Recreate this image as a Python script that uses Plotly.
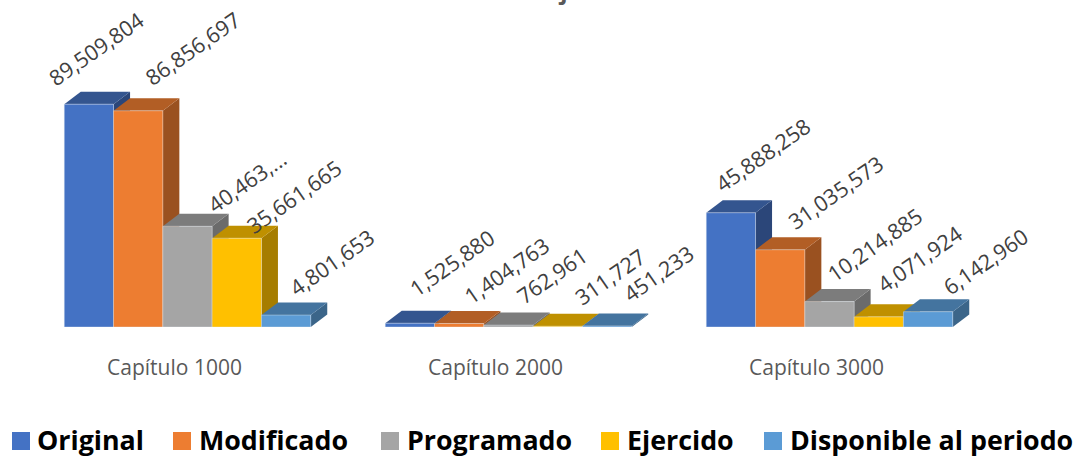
import plotly.graph_objects as go

categories = ["Capítulo 1000", "Capítulo 2000", "Capítulo 3000"]
original = [89509804, 1525880, 45888258]
modificado = [86856697, 1404763, 31035573]
programado = [40463000, 762961, 10214885]
ejercido = [35661665, 311727, 4071924]
disponible = [4801653, 451233, 6142960]

series_names = ["Original", "Modificado", "Programado", "Ejercido", "Disponible al periodo"]
series_values = [original, modificado, programado, ejercido, disponible]
front_colors = ["#4472C4", "#ED7D31", "#A5A5A5", "#FFC000", "#5B9BD5"]
top_colors = ["#34558F", "#B25E25", "#7C7C7C", "#BF9000", "#44749F"]
side_colors = ["#2B4679", "#9A5120", "#6B6B6B", "#A67D00", "#3B6589"]

label_text = [
    ["89,509,804", "1,525,880", "45,888,258"],
    ["86,856,697", "1,404,763", "31,035,573"],
    ["40,463,...", "762,961", "10,214,885"],
    ["35,661,665", "311,727", "4,071,924"],
    ["4,801,653", "451,233", "6,142,960"],
]
# Label displacement from the top-centre of the bar front, pixels
label_dx = [[7, 42, 32], [54, 47, 55], [59, 43, 45], [57, 52, 41], [45, 51, 57]]
label_dy = [[-56, -61, -58], [-62, -53, -57], [-45, -50, -57], [-42, -50, -58], [-53, -52, -50]]

L, R, T, B = 27, 88, 30, 131
W, H = 1078, 458
Y_MAX = 119.3e6
BAR = 49.3 / 321
DX = 16.5 / 321
DY = 12.5 * Y_MAX / (H - T - B)
TICK_SHIFT = 13 / 321

fig = go.Figure()
for s, name in enumerate(series_names):
    for c in range(len(categories)):
        v = series_values[s][c]
        x0 = c + (s - 2.5) * BAR
        x1 = x0 + BAR
        hover = f"{name}: {v:,}"
        fig.add_trace(go.Scatter(  # side
            x=[x1, x1 + DX, x1 + DX, x1, x1], y=[0, DY, v + DY, v, 0],
            mode="lines", line=dict(width=0), fill="toself", fillcolor=side_colors[s],
            showlegend=False, hoverinfo="text", text=hover))
        fig.add_trace(go.Scatter(  # top
            x=[x0, x0 + DX, x1 + DX, x1, x0], y=[v, v + DY, v + DY, v, v],
            mode="lines", line=dict(width=0), fill="toself", fillcolor=top_colors[s],
            showlegend=False, hoverinfo="text", text=hover))
        fig.add_trace(go.Scatter(  # front
            x=[x0, x0, x1, x1, x0], y=[0, v, v, 0, 0],
            mode="lines", line=dict(width=1, color="rgba(225,232,240,0.4)"), fill="toself",
            fillcolor=front_colors[s], showlegend=False, hoverinfo="text", text=hover))

for s in range(len(series_names)):
    for c in range(len(categories)):
        fig.add_annotation(
            x=c + (s - 2) * BAR, y=series_values[s][c], text=label_text[s][c], showarrow=False,
            xanchor="center", yanchor="middle", textangle=-35,
            xshift=label_dx[s][c], yshift=-label_dy[s][c],
            font=dict(family="Open Sans", size=21.5, color="#404040"))

fig.add_annotation(
    xref="paper", yref="paper", x=(590 - L) / (W - L - R), y=1 + (T - 8) / (H - T - B),
    xanchor="center", yanchor="bottom", showarrow=False, text="<b>al 30 de junio de 2019</b>",
    font=dict(family="Open Sans", size=24, color="#595959"))

# Legend row (swatch left edge and text left edge in pixels)
legend_swatch_px = [12, 173, 381, 601, 764]
legend_text_px = [37, 199, 407, 627, 790]
SWATCH_Y = 441
TEXT_Y = 439.5
for s, name in enumerate(series_names):
    fig.add_shape(type="rect", xref="paper", yref="paper", layer="above", line_width=0,
                  fillcolor=front_colors[s],
                  x0=(legend_swatch_px[s] - L) / (W - L - R), x1=(legend_swatch_px[s] + 18 - L) / (W - L - R),
                  y0=(H - B - SWATCH_Y - 9) / (H - T - B), y1=(H - B - SWATCH_Y + 9) / (H - T - B))
    fig.add_annotation(xref="paper", yref="paper", showarrow=False, xanchor="left", yanchor="middle",
                       x=(legend_text_px[s] - L) / (W - L - R), y=(H - B - TEXT_Y) / (H - T - B),
                       xshift=-2, text=f"<b>{name}</b>",
                       font=dict(family="Open Sans", size=26.8, color="#000000"))

fig.update_layout(
    width=W, height=H, margin=dict(l=L, r=R, t=T, b=B),
    paper_bgcolor="white", plot_bgcolor="white", showlegend=False,
    xaxis=dict(range=[-0.5, 2.5], tickmode="array",
               tickvals=[c - TICK_SHIFT for c in range(len(categories))], ticktext=categories,
               showgrid=False, zeroline=False, showline=False, ticks="outside",
               tickcolor="rgba(0,0,0,0)", ticklen=22,
               tickfont=dict(family="Open Sans", size=21, color="#595959")),
    yaxis=dict(range=[0, Y_MAX], visible=False),
)
fig.write_html("out.html", config={"displayModeBar": False},
               post_script="document.body.style.margin='0';")
